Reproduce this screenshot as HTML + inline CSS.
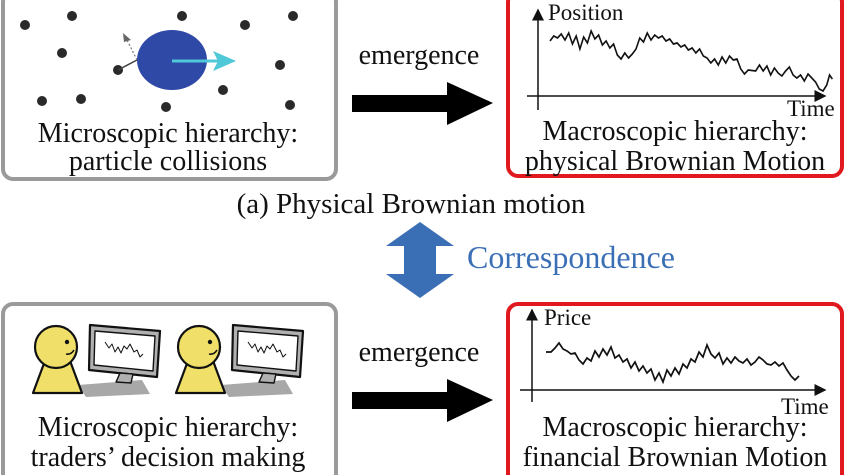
<!DOCTYPE html>
<html><head><meta charset="utf-8"><style>
html,body{margin:0;padding:0;background:#fff;}
svg{display:block;}
text{font-family:"Liberation Serif",serif;fill:#111;}
</style></head><body>
<svg width="845" height="475" viewBox="0 0 845 475" xmlns="http://www.w3.org/2000/svg">
<defs>
<marker id="ah" markerWidth="8" markerHeight="8" refX="7" refY="4" orient="auto"><path d="M0,0 L8,4 L0,8 z" fill="#111"/></marker>
</defs>
<!-- boxes -->
<rect x="3" y="-8" width="333" height="187" rx="10" fill="none" stroke="#9a9a9a" stroke-width="4"/>
<rect x="508" y="-8" width="334" height="184" rx="10" fill="none" stroke="#e0191f" stroke-width="4"/>
<rect x="3" y="304" width="333" height="190" rx="10" fill="none" stroke="#9a9a9a" stroke-width="4"/>
<rect x="508" y="304" width="334" height="190" rx="10" fill="none" stroke="#e0191f" stroke-width="4"/>

<!-- particles -->
<g fill="#2a2a2a">
<circle cx="25" cy="25" r="5"/><circle cx="72" cy="16" r="5"/><circle cx="182" cy="16" r="5"/><circle cx="245" cy="25" r="5"/><circle cx="293" cy="16" r="5"/><circle cx="62" cy="53" r="5"/><circle cx="118" cy="70" r="5"/><circle cx="280" cy="65" r="5"/><circle cx="223" cy="90" r="5"/><circle cx="42" cy="101" r="5"/><circle cx="81" cy="99" r="5"/><circle cx="166" cy="107" r="5"/><circle cx="290" cy="105" r="5"/>
</g>
<line x1="118" y1="70" x2="137" y2="60" stroke="#444" stroke-width="1.5"/>
<line x1="137" y1="60" x2="126" y2="38" stroke="#777" stroke-width="1.2" stroke-dasharray="2,2"/>
<path d="M123,33 L131,40 L124,42 z" fill="#666"/>
<ellipse cx="172" cy="60" rx="35" ry="30" fill="#2f49a6"/>
<line x1="172" y1="61" x2="220" y2="61" stroke="#4fc8d8" stroke-width="3"/>
<path d="M213,51 L236,61 L213,71 L218,61 z" fill="#4fc8d8"/>

<text x="168" y="142" font-size="28" text-anchor="middle">Microscopic hierarchy:</text>
<text x="168" y="170" font-size="28" text-anchor="middle">particle collisions</text>

<!-- emergence arrows -->
<text x="419" y="64" font-size="28" text-anchor="middle">emergence</text>
<path d="M352,95 L447,95 L447,82 L493,103 L447,125 L447,112 L352,112 z" fill="#000"/>
<text x="419" y="361" font-size="28" text-anchor="middle">emergence</text>
<path d="M352,392 L447,392 L447,379 L493,400 L447,422 L447,409 L352,409 z" fill="#000"/>

<text x="411" y="213" font-size="29" text-anchor="middle">(a) Physical Brownian motion</text>
<path d="M420,222 L454,246 L436,246 L436,274 L454,274 L420,298 L386,274 L404,274 L404,246 L386,246 z" fill="#3a6fb6"/>
<text x="467" y="268" font-size="32" style="fill:#3a6fb6">Correspondence</text>

<!-- top plot -->
<line x1="538" y1="110" x2="538" y2="10" stroke="#111" stroke-width="1.5" marker-end="url(#ah)"/>
<line x1="527" y1="96" x2="825" y2="96" stroke="#111" stroke-width="1.5" marker-end="url(#ah)"/>
<text x="548" y="20" font-size="23">Position</text>
<text x="787" y="116" font-size="23">Time</text>
<g transform="translate(550,3) scale(0.935,1) translate(-551,0)">
<polyline fill="none" stroke="#111" stroke-width="1.7" points="551,38 555,33 559,35 563,31 567,37 571,30 575,41 579,33 583,46 587,34 591,40 595,28 599,36 603,32 607,42 611,38 615,45 619,41 623,52 627,56 631,50 635,55 639,51 643,46 647,35 651,39 655,30 659,37 663,32 667,35 671,33 675,38 679,36 683,41 687,40 691,44 695,42 699,47 703,45 707,50 711,46 715,53 719,55 723,60 727,56 731,62 735,54 739,60 743,53 747,57 751,56 755,66 759,71 763,67 771,68 775,62 779,68 783,63 787,72 791,65 795,70 799,73 803,68 807,64 811,72 815,75 819,72 823,78 827,71 831,75 835,79 839,86 843,88 847,82 850,72 853,76"/>
</g>
<text x="675" y="140" font-size="28" text-anchor="middle">Macroscopic hierarchy:</text>
<text x="675" y="170" font-size="28" text-anchor="middle">physical Brownian Motion</text>

<!-- bottom plot -->
<line x1="532" y1="402" x2="532" y2="310" stroke="#111" stroke-width="1.5" marker-end="url(#ah)"/>
<line x1="520" y1="390" x2="825" y2="390" stroke="#111" stroke-width="1.5" marker-end="url(#ah)"/>
<text x="544" y="325" font-size="23">Price</text>
<text x="781" y="414" font-size="23">Time</text>
<polyline fill="none" stroke="#111" stroke-width="1.7" points="546,352 551,352 555,348 559,343 563,349 567,351 571,354 575,353 579,360 583,364 587,358 591,361 595,351 599,357 603,349 607,355 611,347 615,358 619,355 623,362 627,359 631,368 635,362 639,371 643,366 647,373 651,369 655,380 659,373 663,382 667,370 671,376 675,368 679,374 683,364 687,368 691,359 695,362 699,352 703,357 707,345 711,354 715,358 719,353 723,364 727,358 731,363 735,357 739,361 743,363 747,359 751,365 755,362 759,357 763,360 767,364 771,365 775,362 779,366 783,363 787,370 791,376 795,380 799,376"/>
<text x="675" y="436" font-size="28" text-anchor="middle">Macroscopic hierarchy:</text>
<text x="675" y="466" font-size="28" text-anchor="middle">financial Brownian Motion</text>

<!-- traders -->
<g id="trader" stroke="#111" stroke-width="2.2" stroke-linejoin="round">
<path d="M78,385 L142,380 L150,394 L86,397 z" fill="#a8a8a8" stroke="none"/>
<path d="M33,393 L49,350 L66,350 L82,393 z" fill="#f0e06a"/>
<circle cx="56" cy="347" r="21" fill="#f0e06a"/>
<circle cx="67" cy="342" r="2.2" fill="#111" stroke="none"/>
<path d="M66,354 Q71,355 74,350" fill="none" stroke-width="1.6"/>
<path d="M90,325 L160,331 L157,377 L89,370 z" fill="#b0b0b0"/>
<path d="M95,331 L155,336 L153,371 L94,365 z" fill="#fff" stroke-width="1.4"/>
<path d="M120,373 L133,374 L131,383 L116,382 z" fill="#b0b0b0" stroke-width="1.4"/>
<polyline points="105,342 109,348 112,344 115,352 118,347 121,353 124,346 127,349 130,344 134,352 137,350 140,357 143,354" fill="none" stroke-width="1"/>
</g>
<use href="#trader" x="143" y="0"/>
<text x="168" y="436" font-size="28" text-anchor="middle">Microscopic hierarchy:</text>
<text x="168" y="466" font-size="28" text-anchor="middle">traders’ decision making</text>
</svg>
</body></html>
